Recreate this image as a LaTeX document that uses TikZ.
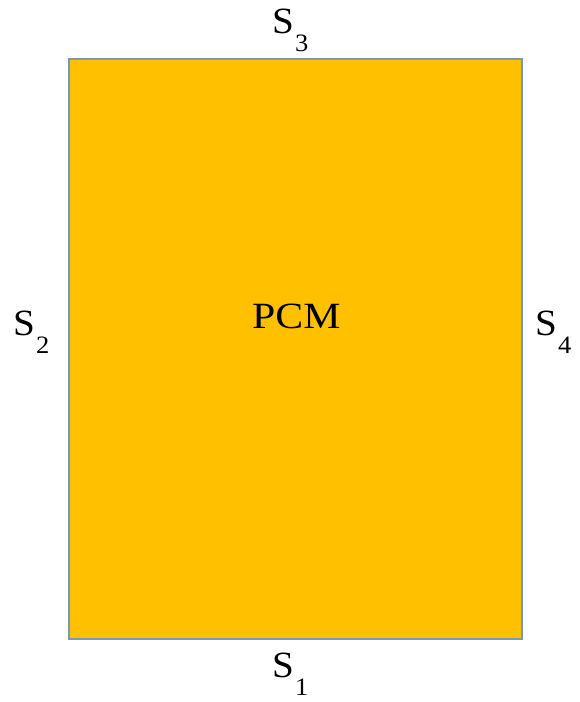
\documentclass[tikz,border=0pt]{standalone}
\usepackage{fontspec}
\setmainfont{Liberation Serif}
\definecolor{pcmfill}{HTML}{FFC000}
\definecolor{pcmedge}{HTML}{7A98BC}
\newcommand{\sidelabel}[1]{\scalebox{1.06}[1]{S\hspace{1pt}{\fontsize{25}{25}\selectfont\raisebox{-18pt}{#1}}}}
\begin{document}
\begin{tikzpicture}[x=1pt,y=-1pt,
  lbl/.style={inner sep=0pt,anchor=base west,font=\fontsize{37}{37}\selectfont}]
\useasboundingbox (0,0) rectangle (579,702);
\node[draw=pcmedge,line width=2.2pt,fill=pcmfill,minimum width=453pt,minimum height=580pt,inner sep=0pt,anchor=north west] (pcm) at (68,58) {};
\node[lbl] (pcmtext) at (252,328) {\scalebox{1.13}[1]{PCM}};
\node[lbl] (s3) at (272,33) {\sidelabel{3}};
\node[lbl] (s2) at (13,335) {\sidelabel{2}};
\node[lbl] (s4) at (535,335) {\sidelabel{4}};
\node[lbl] (s1) at (272,677) {\sidelabel{1}};
\end{tikzpicture}
\end{document}
